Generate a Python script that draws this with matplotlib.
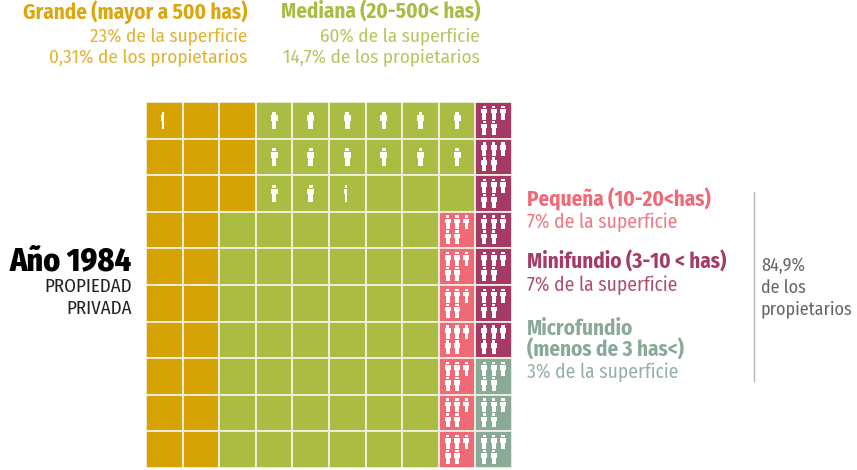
import matplotlib
matplotlib.use('Agg')
import matplotlib.pyplot as plt
from matplotlib.patches import Rectangle, PathPatch
from matplotlib.path import Path

W, H = 857, 470

# rows of the 10x10 grid, one letter per cell
grid = [
    "GGGMMMMMMN",
    "GGGMMMMMMN",
    "GGGMMMMMMN",
    "GGMMMMMMPN",
    "GGMMMMMMPN",
    "GGMMMMMMPN",
    "GGMMMMMMPN",
    "GGMMMMMMPC",
    "GGMMMMMMPC",
    "GGMMMMMMPC",
]

colors = {'G': '#d5a404', 'M': '#abbc43', 'P': '#ef6a76', 'N': '#a63a66', 'C': '#8aa997'}

# single person cells: (row, col, visible share of the icon)
single_people = [(0, 0, 0.45)]
single_people += [(r, c, 1) for r in (0, 1) for c in range(3, 9)]
single_people += [(2, 3, 1), (2, 4, 1), (2, 5, 0.5)]

people_per_cell = 5

cond = ['Fira Sans Condensed', 'Roboto', 'DejaVu Sans']

fig = plt.figure(figsize=(W / 100, H / 100), dpi=100)
ax = fig.add_axes([146 / W, 1 - 468 / H, 366 / W, 366 / H])
ax.set_xlim(0, 10)
ax.set_ylim(10, 0)
ax.axis('off')

txt = fig.add_axes([0, 0, 1, 1], zorder=3)
txt.set_xlim(0, W)
txt.set_ylim(H, 0)
txt.axis('off')


def person(cx, cy, scale, wide, share=1):
    # little figure: head, trunk with arms, legs
    verts = []
    codes = []
    parts = [
        (-0.28, -1.00, 0.28, -0.66),
        (-0.50, -0.56, 0.50, 0.10),
        (-0.32, 0.10, 0.32, 1.00),
    ]
    for x0, y0, x1, y1 in parts:
        verts += [(cx + x0 * wide, cy + y0 * scale), (cx + x1 * wide, cy + y0 * scale),
                  (cx + x1 * wide, cy + y1 * scale), (cx + x0 * wide, cy + y1 * scale),
                  (cx + x0 * wide, cy + y0 * scale)]
        codes += [Path.MOVETO, Path.LINETO, Path.LINETO, Path.LINETO, Path.CLOSEPOLY]
    p = PathPatch(Path(verts, codes), fc='white', ec='none', zorder=3)
    ax.add_patch(p)
    if share < 1:
        clip = Rectangle((cx - 0.5 * wide, cy - scale), wide * share, 2 * scale, transform=ax.transData)
        p.set_clip_path(clip)


for r, row in enumerate(grid):
    for c, key in enumerate(row):
        ax.add_patch(Rectangle((c, r), 1, 1, fc=colors[key], ec='#f0f0e2', lw=1.3, zorder=1))
        if key in 'PNC':
            for i in range(people_per_cell):
                px = c + 0.5 + (i % 3 - 1) * 0.255
                py = r + 0.29 + (i // 3) * 0.41
                person(px, py, 0.19, 0.165)

for r, c, share in single_people:
    person(c + 0.5, r + 0.5, 0.235, 0.19, share)

header = [
    (247, '#dca60c', "Grande (mayor a 500 has)", "23% de la superficie", "0,31% de los propietarios"),
    (480, '#abbc43', "Mediana (20-500< has)", "60% de la superficie", "14,7% de los propietarios"),
]
for x, col, a, b, c in header:
    txt.text(x, 19, a, color=col, ha='right', va='baseline', fontsize=15.2, fontweight='bold', family=cond)
    txt.text(x, 41, b, color=col, ha='right', va='baseline', fontsize=13.8, family=cond, alpha=0.85)
    txt.text(x, 62, c, color=col, ha='right', va='baseline', fontsize=13.8, family=cond, alpha=0.85)

side = [
    (207, '#ef6a76', "Pequeña (10-20<has)", True),
    (228, '#ef6a76', "7% de la superficie", False),
    (269, '#a63a66', "Minifundio (3-10 < has)", True),
    (291, '#a63a66', "7% de la superficie", False),
    (335, '#8aa997', "Microfundio", True),
    (357, '#8aa997', "(menos de 3 has<)", True),
    (378, '#8aa997', "3% de la superficie", False),
]
for y, col, s, bold in side:
    if bold:
        txt.text(527, y, s, color=col, va='baseline', fontsize=15.2, fontweight='bold', family=cond)
    else:
        txt.text(527, y, s, color=col, va='baseline', fontsize=14, family=cond, alpha=0.9)

txt.plot([754, 754], [192, 381], color='#b5b5b0', lw=1)
for y, s in [(271, "84,9%"), (293, "de los"), (314, "propietarios")]:
    txt.text(761, y, s, color='#666666', va='baseline', fontsize=13, family=cond)

txt.text(132, 270, "Año 1984", color='black', ha='right', va='baseline', fontsize=23, fontweight='heavy', family=cond)
txt.text(132, 292, "PROPIEDAD", color='#222222', ha='right', va='baseline', fontsize=13.6, family=cond)
txt.text(132, 314, "PRIVADA", color='#222222', ha='right', va='baseline', fontsize=13.6, family=cond)

fig.savefig('out.png', dpi=100)
